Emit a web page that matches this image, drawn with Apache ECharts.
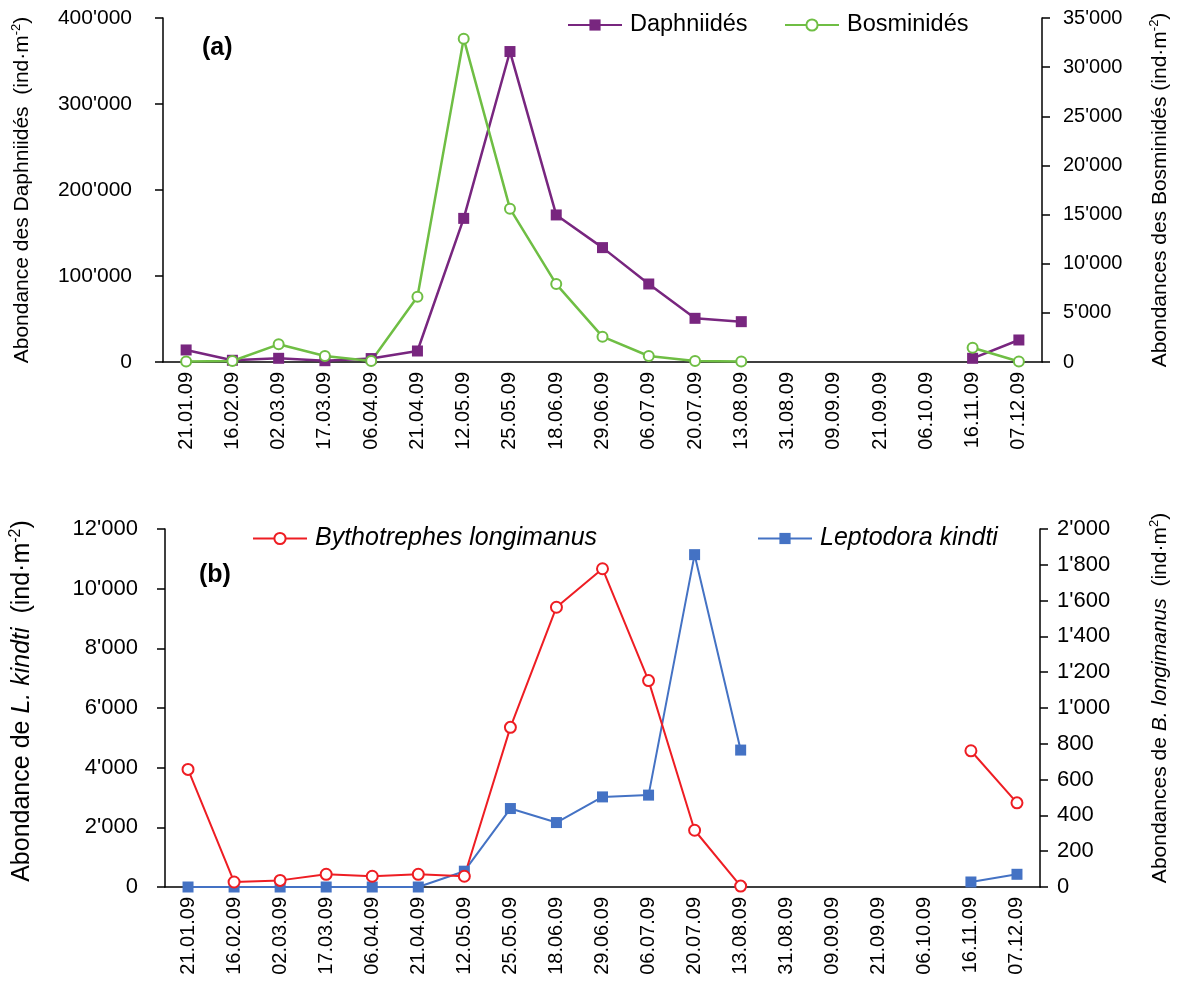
<!DOCTYPE html>
<html><head><meta charset="utf-8">
<script src="https://cdn.jsdelivr.net/npm/echarts@6/dist/echarts.min.js"></script>
<style>html,body{margin:0;padding:0;background:#fff}#c{width:1183px;height:992px}</style>
</head><body><div id="c"></div>
<script>
const dates = ['21.01.09','16.02.09','02.03.09','17.03.09','06.04.09','21.04.09','12.05.09','25.05.09','18.06.09','29.06.09','06.07.09','20.07.09','13.08.09','31.08.09','09.09.09','21.09.09','06.10.09','16.11.09','07.12.09'];
const daphniides = [14000, 2000, 4300, 1500, 4000, 12800, 167000, 361000, 171000, 133000, 90700, 50800, 46900, null, null, null, null, 4300, 25600];
const bosminides = [50, 100, 1800, 610, 100, 6640, 32900, 15600, 7930, 2580, 610, 100, 50, null, null, null, null, 1450, 50];
const bythotrephes = [657, 28, 37, 71, 60, 71, 60, 892, 1563, 1778, 1153, 317, 5, null, null, null, null, 761, 470];
const leptodora = [0, 0, 0, 0, 0, 0, 530, 2630, 2160, 3020, 3080, 11140, 4590, null, null, null, null, 168, 426];

const FF = '"Liberation Sans", Arial, sans-serif';
const fmt = v => String(v).replace(/\B(?=(\d{3})+(?!\d))/g, "'");
const PURPLE = '#78267F', GREEN = '#6FBE44', RED = '#EE1D23', BLUE = '#4472C4';

function yAx(grid, pos, max, interval, fs, margin, name, rich, gap, pad) {
  return {
    type: 'value', gridIndex: grid, position: pos, min: 0, max: max, interval: interval,
    splitLine: {show: false},
    axisLine: {show: true, lineStyle: {color: '#000', width: 1.5}},
    axisTick: {show: true, length: 8, lineStyle: {color: '#000', width: 1.5}},
    axisLabel: {fontSize: fs, color: '#000', fontFamily: FF, margin: margin, formatter: fmt},
    name: name, nameLocation: 'middle', nameRotate: 90, nameGap: gap,
    nameTextStyle: {fontFamily: FF, color: '#000', rich: rich, padding: pad}
  };
}
function xAx(grid) {
  return {
    type: 'category', gridIndex: grid, data: dates, boundaryGap: true,
    axisLine: {lineStyle: {color: '#000', width: 1.5}},
    axisTick: {length: 7, lineStyle: {color: '#000', width: 1.5}},
    axisLabel: {rotate: 90, fontSize: 20, color: '#000', fontFamily: FF, margin: 10, interval: 0}
  };
}
function richSet(fs) {
  const sfs = Math.round(fs * 0.62);
  return {
    n: {fontSize: fs, fontFamily: FF, color: '#000', lineHeight: fs + 4},
    i: {fontSize: fs, fontFamily: FF, color: '#000', fontStyle: 'italic', lineHeight: fs + 4},
    s: {fontSize: sfs, fontFamily: FF, color: '#000', lineHeight: sfs, verticalAlign: 'top'}
  };
}
function leg(name, left, top, fs, italic) {
  return {data: [name], left: left, top: top, padding: 0, itemWidth: 54, itemHeight: 14, itemGap: 0,
    textStyle: {fontSize: fs, fontFamily: FF, color: '#000', fontStyle: italic ? 'italic' : 'normal', padding: [0, 0, 0, 3]}};
}

const chart = echarts.init(document.getElementById('c'), null, {renderer: 'canvas'});
chart.setOption({
  animation: false,
  backgroundColor: '#fff',
  grid: [
    {left: 163, right: 141, top: 18, height: 344},
    {left: 163, right: 143, top: 529, height: 358}
  ],
  xAxis: [xAx(0), xAx(1)],
  yAxis: [
    yAx(0, 'left', 400000, 100000, 21, 31, '{n|Abondance des Daphniidés  (ind·m}{s|-2}{n|)}', richSet(21), 128, 0),
    yAx(0, 'right', 35000, 5000, 20, 21, '{n|Abondances des Bosminidés (ind·m}{s|-2}{n|)}', richSet(21), 106, 0),
    yAx(1, 'left', 12000, 2000, 22, 27, '{n|Abondance de }{i|L. kindti}{n|  (ind·m}{s|-2}{n|)}', richSet(25), 128, [0, 0, 0, 14]),
    yAx(1, 'right', 2000, 200, 22, 17, '{n|Abondances de }{i|B. longimanus}{n|  (ind·m}{s|2}{n|)}', richSet(21), 108, [0, 0, 0, 20])
  ],
  legend: [
    leg('Daphniidés', 567, 13, 23.5, false),
    leg('Bosminidés', 784, 13, 23.5, false),
    leg('Bythotrephes longimanus', 252, 526, 25, true),
    leg('Leptodora kindti', 757, 526, 25, true)
  ],
  graphic: [
    {type: 'text', left: 202, top: 36, style: {text: '(a)', font: 'bold 25px "Liberation Sans", Arial', fill: '#000'}},
    {type: 'text', left: 199, top: 563, style: {text: '(b)', font: 'bold 25px "Liberation Sans", Arial', fill: '#000'}}
  ],
  series: [
    {name: 'Daphniidés', type: 'line', xAxisIndex: 0, yAxisIndex: 0, data: daphniides,
     symbol: 'rect', symbolSize: 11, connectNulls: false,
     lineStyle: {color: PURPLE, width: 2.5}, itemStyle: {color: PURPLE}},
    {name: 'Bosminidés', type: 'line', xAxisIndex: 0, yAxisIndex: 1, data: bosminides,
     symbol: 'emptyCircle', symbolSize: 10, connectNulls: false,
     lineStyle: {color: GREEN, width: 2.5}, itemStyle: {color: GREEN, borderColor: GREEN, borderWidth: 1.5}},
    {name: 'Leptodora kindti', type: 'line', xAxisIndex: 1, yAxisIndex: 2, data: leptodora,
     symbol: 'rect', symbolSize: 11, connectNulls: false,
     lineStyle: {color: BLUE, width: 2}, itemStyle: {color: BLUE}},
    {name: 'Bythotrephes longimanus', type: 'line', xAxisIndex: 1, yAxisIndex: 3, data: bythotrephes,
     symbol: 'emptyCircle', symbolSize: 11, connectNulls: false,
     lineStyle: {color: RED, width: 2}, itemStyle: {color: RED, borderColor: RED, borderWidth: 1.5}}
  ]
});
</script>
</body></html>
